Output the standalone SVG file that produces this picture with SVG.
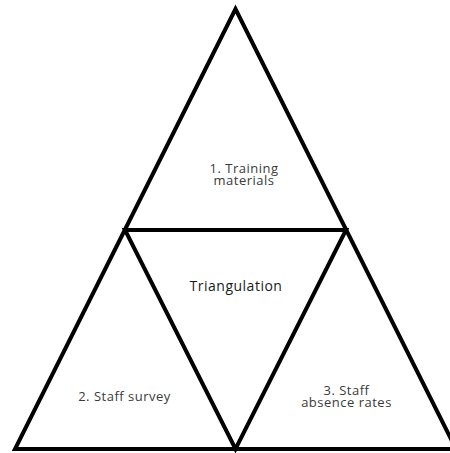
<svg xmlns="http://www.w3.org/2000/svg" width="450" height="453" viewBox="0 0 450 453">
<style>
.edge{fill:none;stroke:#000;stroke-width:4;stroke-linejoin:miter;stroke-miterlimit:10}
.lbl{font-family:"Open Sans","Liberation Sans",sans-serif;font-size:13px;letter-spacing:0.5px;fill:#3a3a3a;text-anchor:middle}
.main{font-family:"Open Sans","Liberation Sans",sans-serif;font-size:14px;letter-spacing:0.5px;fill:#1a1a1a;text-anchor:middle}
</style>
<rect width="450" height="453" fill="#fff"/>
<g id="connectors">
<polygon class="edge" points="235.5,9 15,449 456,449"/>
<polygon class="edge" points="125,230 346,230 235.5,449"/>
</g>
<g id="node-training">
<text class="lbl" x="244" y="173">1. Training</text>
<text class="lbl" x="244" y="185">materials</text>
</g>
<g id="node-triangulation">
<text class="main" x="236" y="291">Triangulation</text>
</g>
<g id="node-survey">
<text class="lbl" x="124.5" y="401">2. Staff survey</text>
</g>
<g id="node-absence">
<text class="lbl" x="346.5" y="394.5">3. Staff</text>
<text class="lbl" x="346.5" y="406.5">absence rates</text>
</g>
</svg>
